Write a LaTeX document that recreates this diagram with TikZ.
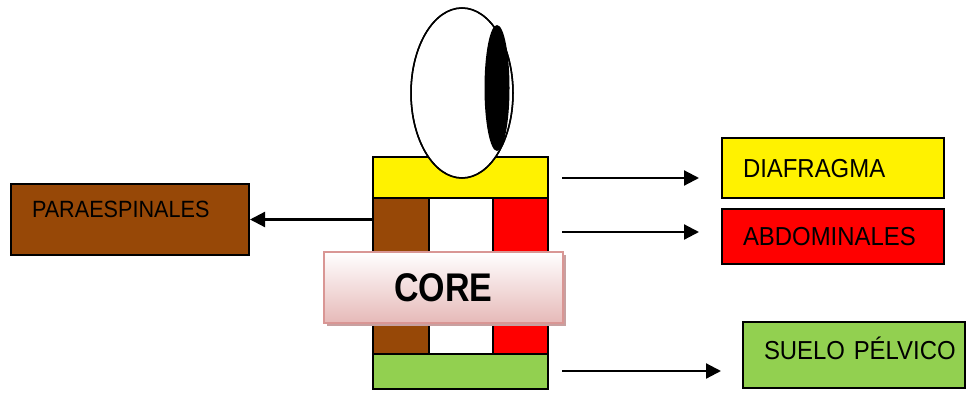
\documentclass[tikz,border=0pt]{standalone}
\usepackage{fontspec}
\newfontfamily\labelfont[FakeStretch=0.92]{Liberation Sans}
\newfontfamily\corefont[FakeStretch=0.85]{Liberation Sans}
\usetikzlibrary{arrows.meta,shadows}
\definecolor{musbrown}{RGB}{151,72,7}
\definecolor{musgreen}{RGB}{146,208,80}
\definecolor{corepink}{RGB}{230,185,184}
\definecolor{coreline}{RGB}{217,150,148}
\definecolor{coreshadow}{RGB}{200,160,160}
\begin{document}
\begin{tikzpicture}
  \tikzset{
    muscle/.style={
      rectangle,
      draw=black,
      line width=2pt,
      inner xsep=21pt,
      align=left,
      text height=18.5pt,
      text depth=0pt,
      font=\labelfont\fontsize{26}{26}\selectfont
    },
    band/.style={
      draw=black,
      line width=2pt
    },
    pointer/.style={
      line width=2.2pt,
      -{Triangle[length=15pt,width=15pt]}
    }
  }
  \useasboundingbox (0pt, 0pt) rectangle (967pt, 392pt);

  % core column
  \draw[band, fill=yellow] (373pt, 194pt) rectangle (548pt, 235pt);
  \draw[band, fill=musbrown] (373pt, 38pt) rectangle (429pt, 194pt);
  \draw[band, fill=white] (429pt, 38pt) rectangle (493pt, 194pt);
  \draw[band, fill=red] (493pt, 38pt) rectangle (548pt, 194pt);
  \draw[band, fill=musgreen] (373pt, 3pt) rectangle (548pt, 38pt);

  % eye
  \draw[line width=1.5pt, fill=white] (462pt, 299pt) ellipse [x radius=51pt, y radius=85pt];
  \fill[black] (497pt, 304pt) ellipse [x radius=12.5pt, y radius=63pt];
  \draw[line width=1.5pt] (462pt, 299pt) ellipse [x radius=51pt, y radius=85pt];

  \node[draw=coreline, line width=1.5pt, top color=white, bottom color=corepink,
    drop shadow={shadow xshift=3pt, shadow yshift=-3pt, fill=coreshadow, opacity=1},
    minimum width=239pt, minimum height=71pt,
    font=\corefont\bfseries\fontsize{40}{40}\selectfont] (core) at (443.5pt, 104.5pt) {CORE};

  \node[muscle, fill=musbrown, text width=196pt, minimum height=71pt,
    text height=17pt, text depth=21pt, font=\labelfont\fontsize{23.5}{24}\selectfont]
    (para) at (130pt, 172.5pt) {PARAESPINALES};
  \node[muscle, fill=yellow, text width=180pt, minimum height=60pt]
    (diaf) at (833pt, 224pt) {DIAFRAGMA};
  \node[muscle, fill=red, text width=180pt, minimum height=55pt]
    (abdo) at (833pt, 155.5pt) {ABDOMINALES};
  \node[muscle, fill=musgreen, text width=180pt, minimum height=66pt, text depth=10pt]
    (suelo) at (854pt, 37pt) {\mbox{SUELO PÉLVICO}};

  \coordinate (p0) at (373pt, 172.5pt);
  \coordinate (d0) at (562pt, 214pt);
  \coordinate (a0) at (562pt, 160pt);
  \coordinate (s0) at (562pt, 21pt);

  \draw[pointer] (p0) -- (para.east);
  \draw[pointer, shorten >=22pt] (d0) -- (d0 -| diaf.west);
  \draw[pointer, shorten >=22pt] (a0) -- (a0 -| abdo.west);
  \draw[pointer, shorten >=21pt] (s0) -- (s0 -| suelo.west);
\end{tikzpicture}
\end{document}
